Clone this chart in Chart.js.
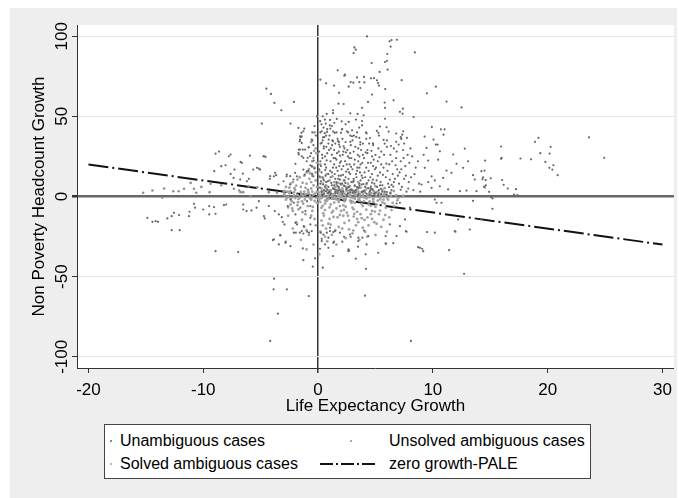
<!DOCTYPE html>
<html>
<head>
<meta charset="utf-8">
<script src="https://cdn.jsdelivr.net/npm/chart.js@4.4.1/dist/chart.umd.min.js"></script>
<style>
  body { margin: 0; background: #fff; }
  #wrap { position: relative; width: 679px; height: 498px; }
  #legend { position: absolute; left: 104px; top: 424px; width: 487px; height: 55px;
            border: 1px solid #444; background: #fff; box-sizing: border-box;
            font-family: Arial, "Liberation Sans", sans-serif; font-size: 16px; color: #000; }
  #legend .item { position: absolute; white-space: nowrap; line-height: 18px; }
  #legend .dot { position: absolute; border-radius: 50%; }
</style>
</head>
<body>
<div id="wrap">
  <canvas id="myChart" width="679" height="498"></canvas>
  <div id="legend"></div>
</div>
<script>
const seriesNames = ['Unambiguous cases', 'Unsolved ambiguous cases', 'Solved ambiguous cases', 'zero growth-PALE'];
const xTitle = 'Life Expectancy Growth';
const yTitle = 'Non Poverty Headcount Growth';
const xTicks = [-20, -10, 0, 10, 20, 30];
const yTicks = [-100, -50, 0, 50, 100];

// zero growth-PALE reference line
const lineX = [-20, 30];
const lineY = [20, -30];

// [life expectancy growth, non poverty headcount growth]
const unambiguous = [
  [-4.5,67.3],[-4.1,64],[-3.8,58.4],[-3.2,53.8],[-2.1,59],[-4.9,45.5],[-2.4,45.5],[-1.2,42.4],[-1.45,39.7],[-1.5,37],[-1.6,34.5],[-0.5,35],[-0.8,30.7],
  [4.26,99.9],[6.23,96.8],[6.4,97.6],[6.87,97.8],[6.32,93.5],[3.16,93],[3.28,91.6],[3.1,89.5],[8.43,89.9],[6.03,88.9],[6.0,84.7],[5.83,83.9],[4.67,83.3],
  [6.06,79.1],[1.71,78.7],[5.36,77.7],[2.35,76],[2.29,75.4],[3.39,74.3],[4.0,74.6],[4.61,73.7],[4.87,73.9],[5.13,72.5],[5.22,70.8],[5.3,69.2],[2.84,71.4],
  [3.07,71],[3.59,71.4],[4.03,71.2],[7.28,72.6],[0.2,72.9],[0.7,70.6],[2.67,68.5],[3.68,67.7],[1.39,69.2],[5.85,67],[10.26,68.5],[9.48,64.4],[1.83,64.7],
  [4.7,63.6],[6.58,60],[4.35,59],[11.19,59.2],[5.8,58.6],[1.77,57.9],[2.23,57.7],[12.5,55.6],[5.83,55.3],[3.83,55.3],[7.39,54.8],[7.13,52.8],[7.36,51.7],
  [1.3,53.8],[2.81,51.9],[3.45,51.5],[3.97,50.7],[0.75,51.5],[1.63,48.4],[8.32,49.6],[5.83,48.5],
  [2.06,46.9],[2.67,46.5],[3.3,48],[3.83,47.1],[3.83,44.4],[0.67,45.5],[1.04,47.8],[1.02,44.4],[1.07,42.4],[0.32,40.7],[0.78,40.3],[1.45,39.7],[2.09,41.9],
  [2.0,39.7],[2.52,40.7],[2.96,41.3],[2.96,37.6],[3.33,37.2],[4.23,39.4],[5.39,43.6],[5.97,43.2],[5.25,39.7],[6.81,39.3],[7.42,40.7],[7.33,38.6],[9.91,43.4],
  [10.7,41.9],[11.02,41.9],[10.93,38.6],[9.28,37.4],[10.06,35.5],[10.41,32.4],[7.25,35.9],[7.74,36.6],[6.81,34.1],[7.02,32.4],[6.0,31],[4.78,33.1],[5.71,35.3],
  [3.68,32.4],[3.59,36.6],[2.81,34.1],[1.74,34.5],[1.83,32.4],[2.23,31.3],[1.3,34.5],[0.43,36.9],[0.32,33.5],[0.93,35.5],[0.5,31.3],
  [23.6,36.9],[24.93,24.1],[19.2,36.6],[18.9,34.1],[20.26,31],[19.36,27],[20.17,26.8],[19.8,21.6],[20.5,19.5],[20.15,17.9],[20.41,16.8],[20.87,13.3],
  [17.63,23.7],[18.55,23.2],[15.94,31.2],[16,24.1],[15.94,23.5],[14.55,22.4],[14.5,16.2],[14.38,12],[14.6,10.2],[14.32,10.8],[15.04,11.4],[14.46,6.2],
  [14.52,5.6],[14.9,2.9],[16.03,10.3],[16.17,7.3],[16.52,5],[17.24,4.6],[17.07,1.2],[17.36,0.8],[15.07,-0.4],[15.2,-1.2],[15.19,-7.7],
  [-8.93,26.8],[-8.63,28],[-7.77,25.1],[-7.62,26.2],[-5.94,25.5],[-4.72,25.1],[-4.58,24.7],[-8.06,19.5],[-8.43,18.9],[-9.04,15.8],[-6.75,21.6],[-7.28,16.8],
  [-7.62,14.1],[-6.55,14.3],[-5.65,16.8],[-5.16,17.4],[-6.03,11],[-4.2,11],[-3.85,12.6],[-3.65,13.3],[-2.75,12.6],[-1.97,20.4],[-1.68,29.3],[-1.33,29.3],
  [-1.68,26.2],[-0.9,24.1],[-0.84,30.7],[-0.38,22.4],[-0.67,19.5],[-0.32,17.4],[-0.52,14.1],[-0.96,15.8],[-1.16,13.7],
  [-10.81,-4.6],[-10.72,-7],[-10,-8.1],[-9.48,-6],[-9.07,-6.6],[-8.93,-10.8],[-8.2,-5.4],[-8.0,-5],[-9.48,-11.2],[-12.11,-11.6],[-12.55,-10.2],[-12.75,-12.3],
  [-13.13,-13.7],[-14.15,-15.4],[-14.43,-15.8],[-13.94,-15.8],[-14.87,-13.3],[-11.25,-12.3],[-11.2,-9.5],[-12.75,-21],[-12.05,-21],[-8.93,-34.1],[-6.96,-34.7],
  [-6.52,-8.1],[-6.23,-9.1],[-5.8,-8.7],[-5.36,-7],[-5.16,-2.9],[-6.52,-5],[-4.72,-12.3],[-4.64,-13.7],[-4.29,-6],[-3.77,-9.1],[-3.42,-11.2],[-3.16,-12.9],
  [-3.07,-15.8],[-2.93,-17.4],[-3.85,-26.8],[-3.42,-29.9],[-2.84,-28.9],[-2.41,-31],[-3.28,-24.1],[-2.11,-22.6],[-1.97,-16.4],[-1.83,-17.4],[-1.59,-22.6],
  [-0.96,-22],[-1.25,-18.5],[-0.67,-13.3],[-0.67,-17.4],[-1.1,-9.1],[-1.54,-7],[-1.97,-11.2],[-2.11,-3.9],[-2.41,-1.9],[-2.64,-6],[-0.67,-6],[-0.96,-2.9],
  [-3.94,-27.2],[-3.3,-24.3],[-2.81,-28.2],[-1.94,-22.6],[-1.42,-21.6],[-1.28,-23.1],[-0.78,-22.6],[-0.55,-21.6],[-1.33,-32.4],[-1.28,-39.7],[-0.26,-38.6],
  [-0.46,-43.8],[-3.83,-51.3],[-3.88,-57.9],[-2.72,-57.9],[-0.81,-62.1],[-3.5,-73.1],[-4.17,-90.1],
  [0.23,-22.6],[0.76,-22.6],[1.04,-21.6],[1.33,-22.2],[1.48,-21.6],[0.32,-26.4],[0.9,-25.7],[0.61,-29.9],[0.17,-32.6],[1.39,-28.2],[2.11,-28.2],[2.26,-25.1],
  [2.84,-25.1],[3.51,-25.7],[3.86,-25.7],[4.38,-24.7],[3.07,-21.2],[4.0,-21.2],[2.64,-33],[2.7,-33.8],[3.48,-31.3],[4.14,-36.1],[3.28,-38.8],[1.3,-37.2],
  [0.41,-44.4],[4.17,-45.1],[4.09,-61.9],[5.89,-24.7],[6.84,-24.7],[5.89,-29.3],[7.65,-21.6],[8.72,-31.6],[9.07,-32.6],[9.5,-22.2],[10.17,-22.6],[11.42,-33.5],
  [11.97,-22],[12.72,-48.2],[8.09,-90.1],
  [9.59,22.4],[10.46,23],[10.26,32.4],[9.3,17.9],[9.89,12.6],[10.17,10],[10.61,6.4],[10.9,11.6],[11.19,16.2],[11.62,14.8],[12.06,20.4],[12.64,17.9],[13.07,22],
  [13.5,13.3],[13.65,10.6],[14.23,15.8],[14.61,7],[9.02,7.5],[9.89,5.4],[11.33,4.4],[12.35,3.3],[12.93,3.7],[13.8,3.3],[9.45,30.3],[10.61,28.2],[11.77,26.2],
  [12.78,29.9],[10.17,-1.9],[10.32,-3.9],[12.2,-14.3],[13.22,-20.6],[14.23,-14.3],[7.13,-3.9],[8.0,-7],[6.26,-17.4],[7.13,-18.5],[7.71,-22],[11.91,-21.6],
  [8.87,-32],[9.16,-34.1],[5.91,-29.5],[6.55,-29.1],[5.24,-35.1],[2.64,-34.1],[3.5,-27.8],[4.23,-29.9],[2.78,-23.7],[1.91,-22.6],[1.33,-28.9],[0.9,-32],
  [0.32,-27.8],[0.46,-23.7],[1.04,-19.5],[13.5,-2.7],[10.75,-3.9],[6.84,-4.4],[7.57,-14.3],
  [-1.57,35.5],[-1.42,33.4],[-1.57,29.3],[-1.71,27.2],[-1.28,24.1],[-0.99,22],[-0.7,25.1],[-0.55,18.9],[-0.84,15.8],[-0.41,12.6],[-1.28,16.8],[-1.85,12.6],
  [-2.15,10.6],[-2.43,7.5],[-0.55,35.5],[-1.57,37.6],[-1.71,42.8],[-1.28,40.7],[-1.42,37.6],[-1.13,29.3],[-1.42,25.1],[-2.0,14.8],[-2.43,12.7],[-2.72,13.7],
  [-3.01,9.5],[-3.45,7.5],[-3.74,14.8],[-4.17,12.7],[-4.75,25.1],[-6.64,21],[-7.36,11.6],[-6.78,10.6],[-6.2,9.5],[-5.33,17.9],[-5.04,16.8],
  [0.1,28],[0.2,22],[0.3,15],[0.4,35],[0.5,10],[0.6,25],[0.7,18],[0.8,42],[0.9,6],[0.2,8],[0.4,12],[0.5,30],[0.7,38],[0.9,14],[0.3,45],[0.6,20],[0.8,27],
  [0.1,17],[0.5,4],[0.9,33],[0.2,40],[0.4,50],[0.7,9],[0.6,48],[0.3,3],
  [1.1,12],[1.2,26],[1.3,5],[1.4,20],[1.5,33],[1.6,9],[1.7,16],[1.8,28],[1.9,4],[1.0,38],[1.2,44],[1.4,7],[1.6,23],[1.8,13],[1.1,30],[1.3,18],[1.5,11],
  [1.7,36],[1.9,21],[1.0,3],[1.6,40],[1.3,52],[1.8,6],[1.2,15],[1.4,29],[1.9,31],[1.7,2],[1.5,24],
  [2.1,8],[2.2,19],[2.3,30],[2.4,12],[2.5,5],[2.6,25],[2.7,15],[2.8,38],[2.9,9],[2.0,22],[2.2,3],[2.4,34],[2.6,17],[2.8,27],[2.1,42],[2.3,10],[2.5,20],
  [2.7,6],[2.9,24],[2.0,13],[2.4,45],[2.6,2],[2.2,28],[2.8,14],
  [3.1,11],[3.2,23],[3.3,4],[3.4,16],[3.5,30],[3.6,8],[3.7,20],[3.8,13],[3.9,26],[3.0,35],[3.2,7],[3.4,40],[3.6,18],[3.8,3],[3.1,28],[3.3,14],[3.5,22],
  [3.7,10],[3.9,33],[3.0,17],[3.6,25],
  [4.1,6],[4.2,18],[4.3,27],[4.4,10],[4.5,3],[4.6,21],[4.7,14],[4.8,32],[4.9,8],[4.0,24],[4.2,36],[4.4,16],[4.6,5],[4.8,19],[4.1,12],[4.3,29],[4.7,25],[4.9,2],
  [5.1,10],[5.2,22],[5.3,4],[5.4,15],[5.5,28],[5.6,7],[5.7,18],[5.8,33],[5.9,12],[5.0,26],[5.3,38],[5.5,20],[5.8,3],[5.2,13],
  [6.1,8],[6.2,20],[6.3,26],[6.4,4],[6.5,14],[6.6,30],[6.7,11],[6.8,24],[6.9,17],[6.0,35],[6.3,2],[6.6,9],
  [7.1,15],[7.2,22],[7.3,6],[7.4,29],[7.5,11],[7.6,19],[7.7,3],[7.8,26],[7.9,9],[7.2,37],[7.5,33],
  [8.1,12],[8.3,4],[8.5,18],[8.8,8],[8.2,25],
  [-0.2,38],[-0.4,32],[-0.3,44],[-0.6,27],[-0.1,50],[-0.5,40],
  [0.5,1.5],[1,2.5],[1.5,1.8],[2,3],[2.5,1.2],[3,2.2],[3.5,1.5],[4,3.5],[4.5,1],[5,2.4],[5.5,1.6],[6,2.8],[1.2,7],[2.3,6.5],[3.4,5.8],[4.6,6.2],
  [0.8,4.4],[1.8,5],[2.8,4.2],[3.8,7.5],
  [0.15,5.5],[0.25,19],[0.35,26],[0.45,7.5],[0.55,37],[0.65,13],[0.75,22.5],[0.85,9.5],[0.95,29],[0.12,12.5],[0.38,24],[0.62,16.5],[0.88,2.2],[0.22,33],
  [0.48,43],[0.72,31],[0.18,47],[0.58,39.5],
  [1.05,16],[1.15,8.5],[1.25,35],[1.35,24],[1.45,14],[1.55,4.2],[1.65,27],[1.75,11],[1.85,19],[1.95,8],[1.08,22],[1.32,40.5],[1.58,18],[1.82,34],[1.12,1.8],
  [1.42,46],[1.68,6.5],[1.92,25.5],[1.22,32],[1.52,3],
  [2.05,17],[2.15,26],[2.25,6.8],[2.35,22],[2.45,15.5],[2.55,29],[2.65,11],[2.75,20],[2.85,32],[2.95,3.8],[2.12,36],[2.38,8.5],[2.62,40],[2.88,18.5],
  [2.18,13.5],[2.42,27.5],[2.72,24],
  [3.05,9],[3.15,20],[3.25,31],[3.35,12],[3.45,26],[3.55,5.5],[3.65,15],[3.75,29],[3.85,21],[3.95,7.8],[3.12,38],[3.42,18],[3.68,34],[3.88,11.5],[3.22,2.6],[3.58,43],
  [4.05,15],[4.15,27.5],[4.25,8.4],[4.35,21],[4.45,33],[4.55,12],[4.65,28.5],[4.75,4.4],[4.85,23],[4.95,17],[4.18,40],[4.52,36.5],[4.78,10.5],
  [5.05,18],[5.15,6],[5.25,30],[5.35,24.5],[5.45,9],[5.65,13.5],[5.75,26],[5.95,20.5],[5.12,41],[5.48,4.8],
  [6.05,16],[6.25,10.5],[6.45,22],[6.55,6.2],[6.75,19.5],[6.85,28],[6.95,13],[6.15,40.5],[6.35,31.5],
  [7.05,8],[7.25,17],[7.45,24],[7.65,13],[7.85,5],[7.95,21],[8.05,30],[8.4,14],[8.7,22],[8.9,3],[9.2,26],[9.6,9],
  [0.35,1.2],[0.7,3.2],[1.05,0.9],[1.4,4.6],[1.75,3.6],[2.1,1.6],[2.45,4.4],[2.8,2.6],[3.15,3.4],[3.5,0.8],[3.85,2.8],[4.2,1.8],[4.55,3.8],[4.9,0.7],
  [5.25,1.4],[5.6,3],[5.95,1.1],[0.6,6.2],[1.6,7.8],[2.6,5.6],[3.6,6.8],[4.4,5.2],[5.4,7],[6.2,5.8],[0.25,9.5],[1.9,10.5],[3.1,9.8],[4.7,8.6],[6.4,7.2],[7.2,4.2]
];

const solved = [
  [-2.5,2],[-2,4],[-1.8,1],[-1.5,6],[-1.2,3],[-1,8],[-0.8,2],[-0.6,5],[-0.4,1],[-0.2,10],[-0.1,3],[-2.8,6],[-2.2,9],[-1.6,12],[-1,15],[-0.5,13],[-0.3,18],
  [-1.3,0.5],[-0.7,0.3],[-2.9,0.8],[0.1,1],[0.3,5],[0.5,2],[0.7,7],[0.9,0.5],[1.1,4],[1.3,1.5],[1.5,6],[1.7,2.5],[1.9,0.8],[2.1,5],[2.3,1.8],[2.5,3.5],
  [2.7,0.6],[2.9,4.5],[3.1,2],[3.3,0.7],[3.5,3],[3.7,5.5],[3.9,1.2],[4.1,3.8],[4.3,0.5],[4.5,2.2],[4.7,4.6],[4.9,1.5],[5.2,3],[5.5,0.8],[5.8,2],[0.2,12],
  [0.4,8],[0.6,3.5],[1,10],[1.4,9],[2,7.5],[2.6,8],[3.2,6.5],[0.2,20],[-0.5,22],[0.1,16],
  [-2.8,-2],[-2.4,-5],[-2,-1],[-1.7,-8],[-1.4,-3],[-1.1,-11],[-0.9,-6],[-0.6,-2],[-0.3,-14],[-0.1,-4],[-2.6,-12],[-1.9,-16],[-1.2,-19],[-0.5,-9],[0.1,-2],
  [0.3,-7],[0.5,-12],[0.7,-3],[0.9,-17],[1.1,-5],[1.3,-9],[1.5,-1.5],[1.7,-13],[1.9,-6],[2.1,-20],[2.3,-3],[2.5,-10],[2.7,-15],[2.9,-4],[3.1,-8],[3.3,-18],
  [3.5,-2],[3.7,-11],[3.9,-6],[4.1,-22],[4.3,-13],[4.5,-3],[4.7,-9],[4.9,-16],[5.1,-5],[5.3,-11],[5.5,-19],[5.7,-2],[5.9,-7],[6.2,-13],[6.5,-4],[0.2,-22],
  [0.6,-25],[1.2,-24],[1.8,-19],[2.4,-26],[3,-23],[3.6,-27],[4.4,-18],[5,-24],[1.6,-30],[0.8,-28],[2.2,-12],[0.4,-18],[3.4,-14],[1,-14],[-0.8,-24],[-1.5,-27],
  [-2.2,-20],
  [0.3,-1],[0.8,-0.5],[1.2,0.3],[1.6,-1.8],[2,0.2],[2.4,-0.9],[2.8,1],[3.2,-1.4],[3.6,0.4],[4,-0.6],[4.4,1.4],[4.8,-1.9],[5.4,-0.4],[6,1.2],[0.6,-4.5],
  [1.4,-3.8],[2.2,-5.5],[3,-3.2],[3.8,-4.6],[4.6,-5.8],[5.6,-3.7],[6.4,-8.5],[-0.2,-0.8],[-0.9,1.8],[-1.6,-0.6],[-2.1,2.6],[-2.6,-0.3],[-1.1,5.4],[-0.4,7],
  [0.15,0.4],[0.45,11],[0.75,14],[1.25,12.5],[1.75,8.5],[2.25,10],[2.75,6.5],[3.5,9],[4.2,7.6],[5,6.4],[5.8,5.2],[6.6,3.4],[7,-1],
  [-2.9,3.5],[-2.7,-0.8],[-2.5,5.5],[-2.3,-3],[-2.1,0.8],[-1.9,6.8],[-1.7,-1.5],[-1.5,2.8],[-1.3,-4.5],[-1.1,1.2],[-0.9,4.2],[-0.7,-1.2],[-0.5,3],[-0.3,-2.8],
  [-0.1,6],[-2.4,8],[-1.8,10.5],[-1.2,13],[-0.6,9],[-0.2,15],[-0.8,17],[-0.4,24],[-0.2,30],[-0.6,34],[-0.3,40],[-0.15,27],
  [0.05,2.5],[0.25,-0.4],[0.35,3.2],[0.55,0.6],[0.65,5.4],[0.85,2],[0.95,-1.5],[1.05,3],[1.15,0.2],[1.35,5.2],[1.45,-0.6],[1.65,3.8],[1.75,0.4],[1.95,2.4],
  [2.05,-0.2],[2.15,4],[2.35,0.9],[2.45,6],[2.65,2.2],[2.85,-0.5],[3.05,3.6],[3.25,1.2],[3.45,4.8],[3.65,1.8],[3.85,-0.2],[4.05,2.6],[4.25,5],[4.45,-0.4],
  [4.65,2],[4.85,3.4],[5.05,0.4],[5.3,2.2],[5.6,4],[5.9,0.6],[6.3,2.4],[6.8,0.8],
  [0.2,-3.5],[0.4,-5.8],[0.6,-8.5],[0.8,-2.2],[1.0,-6.8],[1.2,-10],[1.4,-1.2],[1.6,-7.5],[1.8,-3.4],[2.0,-9],[2.2,-1.6],[2.4,-6.4],[2.6,-12],[2.8,-2.6],
  [3.0,-7],[3.2,-4],[3.4,-9.6],[3.6,-1],[3.8,-13.5],[4.0,-3],[4.2,-8.2],[4.4,-5],[4.6,-11],[4.8,-1.4],[5.0,-6.5],[5.2,-2.6],[5.4,-8.8],[5.8,-4.4],[6.1,-2],
  [6.6,-6],[0.3,-15],[0.7,-20],[1.1,-17.5],[1.5,-21],[1.9,-11.5],[2.3,-16.5],[2.7,-20.5],[3.1,-12.5],[3.5,-16],[3.9,-19.5],[4.3,-25],[4.7,-14],[5.1,-17],
  [5.7,-14.5],[6.0,-22],[-0.2,-18],[-0.6,-12],[-1.0,-21],[-1.4,-14.5],[-1.8,-5.5],[-2.2,-9],[-2.6,-6.8],[-0.4,-30],[-1.0,-33],[0.1,-36],
  [-2.95,1.6],[-2.65,3],[-2.35,-1.4],[-2.05,5.2],[-1.75,-3.6],[-1.45,1.4],[-1.15,-1.8],[-0.85,3.4],[-0.55,-0.6],[-0.25,1.8],[0.02,-1.2],[0.32,2.2],
  [0.62,-2.4],[0.92,3.6],[1.22,-1.4],[1.52,2.6],[1.82,-2.2],[2.12,3],[2.42,-1.8],[2.72,3.8],[3.02,-0.8],[3.32,2.8],[3.62,-2.6],[3.92,3.2],[4.22,-1.2],
  [4.52,0.2],[4.82,-3.4],[5.12,2.6],[5.42,-1.8],[5.72,1],[6.02,-0.8],[6.35,0.4],[6.9,-2.4],[7.4,0.6],[-2.25,-7.5],[-1.35,-9.8],[-0.45,-6.5],[0.45,-10.5],
  [1.35,-12.8],[2.25,-8.4],[3.15,-10.8],[4.05,-14.6],[4.95,-9.4],[5.85,-11.6],[-0.75,11],[-1.35,8.6],[-0.1,21],[-0.5,18.5],[-0.35,28.5],[-0.7,14.5]
];

const unsolved = [
  [-15.24,2.3],[-14.43,3.7],[-13.41,5],[-12.61,3.3],[-12.14,3.3],[-11.68,4.8],[-11.1,8.5],[-10.81,4.8],[-10.61,2.3],[-10.17,6],[-9.36,7.9],[-9.45,2.7],
  [-8.43,7],[-7.33,4.8],[-6.87,3.7],[-6.75,2.7],[-6.52,2.7],[-6.03,6.4],[-5.3,5.8],[-4.29,2.7],[-3.57,2.3],[-2.98,3.3],[-2.41,3.3],[-5.88,0.2],[-13.57,-0.8]
];

const FONT = 'Arial, "Liberation Sans", sans-serif';
const toPts = arr => arr.map(p => ({ x: p[0], y: p[1] }));

const bgPlugin = {
  id: 'stataBg',
  beforeDraw(chart) {
    const c = chart.ctx, a = chart.chartArea;
    c.save();
    c.fillStyle = '#ffffff';
    c.fillRect(0, 0, chart.width, chart.height);
    c.fillStyle = '#eeeeee';
    c.fillRect(10, 8, chart.width - 12, chart.height - 8);
    c.fillStyle = '#ffffff';
    c.fillRect(a.left, a.top, a.right - a.left, a.bottom - a.top);
    c.restore();
  }
};

// vertical tick labels on the y axis, like Stata draws them
const yLabelPlugin = {
  id: 'yLabels',
  afterDraw(chart) {
    const c = chart.ctx, ys = chart.scales.y;
    c.save();
    c.fillStyle = '#000';
    c.font = '17px ' + FONT;
    c.textAlign = 'center';
    c.textBaseline = 'middle';
    ys.ticks.forEach(t => {
      c.save();
      c.translate(62, ys.getPixelForValue(t.value));
      c.rotate(-Math.PI / 2);
      c.fillText(String(t.value), 0, 0);
      c.restore();
    });
    c.restore();
  }
};

const ctx = document.getElementById('myChart').getContext('2d');
const myChart = new Chart(ctx, {
  type: 'scatter',
  data: {
    datasets: [
      { label: seriesNames[0], data: toPts(unambiguous), pointRadius: 1.1, backgroundColor: '#666666', borderWidth: 0 },
      { label: seriesNames[2], data: toPts(solved), pointRadius: 1.4, backgroundColor: '#a2a2a2', borderWidth: 0 },
      { label: seriesNames[1], data: toPts(unsolved), pointRadius: 1.3, backgroundColor: '#8f8f8f', borderWidth: 0 },
      {
        type: 'line',
        label: seriesNames[3],
        data: lineX.map((x, i) => ({ x: x, y: lineY[i] })),
        borderColor: '#111111',
        borderWidth: 2,
        borderDash: [20, 4, 2, 4],
        pointRadius: 0,
        fill: false
      }
    ]
  },
  options: {
    responsive: false,
    animation: false,
    devicePixelRatio: 1,
    layout: { padding: { left: 10, top: 25, right: 5, bottom: 80 } },
    plugins: { legend: { display: false }, tooltip: { enabled: false } },
    scales: {
      x: {
        type: 'linear',
        min: -21,
        max: 31,
        afterBuildTicks: s => { s.ticks = xTicks.map(v => ({ value: v })); },
        afterFit: s => { s.height = 50; },
        ticks: { padding: 7, color: '#000', font: { size: 17, family: FONT } },
        grid: {
          drawOnChartArea: true,
          color: c => (c.tick && c.tick.value === 0) ? '#333333' : 'rgba(0,0,0,0)',
          lineWidth: c => (c.tick && c.tick.value === 0) ? 1.5 : 1,
          tickColor: '#333333',
          tickLength: 5
        },
        border: { display: true, color: '#333333', width: 1 },
        title: { display: true, text: xTitle, color: '#000', font: { size: 17, family: FONT }, padding: { top: 0, bottom: 1 } }
      },
      y: {
        type: 'linear',
        min: -107,
        max: 107,
        afterBuildTicks: s => { s.ticks = yTicks.map(v => ({ value: v })); },
        afterFit: s => { s.width = 67; },
        ticks: { display: false },
        grid: {
          color: c => (c.tick && c.tick.value === 0) ? '#666666' : '#e3e3e3',
          lineWidth: c => (c.tick && c.tick.value === 0) ? 2.5 : 1,
          tickColor: '#333333',
          tickLength: 5
        },
        border: { display: true, color: '#333333', width: 1 },
        title: { display: true, text: yTitle, color: '#000', font: { size: 17, family: FONT }, padding: { top: 19, bottom: 0 } }
      }
    }
  },
  plugins: [bgPlugin, yLabelPlugin]
});

// legend box laid out in two columns like the original
const legend = document.getElementById('legend');
function addText(txt, left, cy) {
  const d = document.createElement('div');
  d.className = 'item';
  d.textContent = txt;
  d.style.left = left + 'px';
  d.style.top = (cy - 9) + 'px';
  legend.appendChild(d);
}
function addDot(cx, cy, r, color) {
  const d = document.createElement('div');
  d.className = 'dot';
  d.style.left = (cx - r) + 'px';
  d.style.top = (cy - r) + 'px';
  d.style.width = d.style.height = (2 * r) + 'px';
  d.style.background = color;
  legend.appendChild(d);
}
addDot(6, 16, 1, '#666666');
addText(seriesNames[0], 15, 16);
addDot(246, 16, 1, '#8f8f8f');
addText(seriesNames[1], 284, 16);
addDot(6, 39, 1.3, '#a2a2a2');
addText(seriesNames[2], 15, 39);
const svgNS = 'http://www.w3.org/2000/svg';
const svg = document.createElementNS(svgNS, 'svg');
svg.setAttribute('width', '58');
svg.setAttribute('height', '4');
svg.style.position = 'absolute';
svg.style.left = '215px';
svg.style.top = '37px';
const ln = document.createElementNS(svgNS, 'line');
ln.setAttribute('x1', '0'); ln.setAttribute('y1', '2');
ln.setAttribute('x2', '58'); ln.setAttribute('y2', '2');
ln.setAttribute('stroke', '#111');
ln.setAttribute('stroke-width', '2');
ln.setAttribute('stroke-dasharray', '13 3 2 3');
svg.appendChild(ln);
legend.appendChild(svg);
addText(seriesNames[3], 284, 39);
</script>
</body>
</html>
